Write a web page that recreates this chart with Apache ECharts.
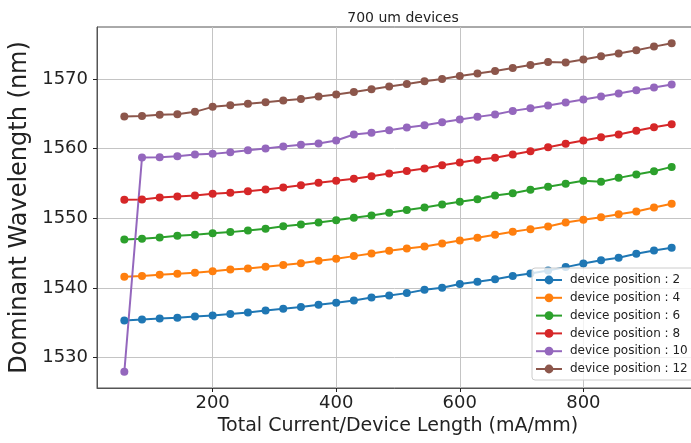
<!DOCTYPE html>
<html>
<head>
<meta charset="utf-8">
<title>700 um devices</title>
<script src="https://cdn.jsdelivr.net/npm/echarts@6/dist/echarts.min.js"></script>
<style>
  html, body { margin: 0; padding: 0; background: #ffffff; }
  #chart { width: 691px; height: 443px; }
</style>
</head>
<body>
<div id="chart"></div>
<script>
// Total current divided by device length (mA/mm)
const currentDensity = [
  57.1, 85.7, 114.3, 142.9, 171.4, 200.0, 228.6, 257.1, 285.7, 314.3, 342.9,
  371.4, 400.0, 428.6, 457.1, 485.7, 514.3, 542.9, 571.4, 600.0, 628.6, 657.1,
  685.7, 714.3, 742.9, 771.4, 800.0, 828.6, 857.1, 885.7, 914.3, 942.9
];

// Dominant wavelength (nm) for each device position
const pos2 = [
  1535.32, 1535.46, 1535.60, 1535.70, 1535.89, 1536.03, 1536.23, 1536.47, 1536.75, 1536.99, 1537.23,
  1537.57, 1537.85, 1538.19, 1538.62, 1538.91, 1539.24, 1539.72, 1540.01, 1540.54, 1540.87, 1541.25,
  1541.69, 1542.07, 1542.50, 1542.98, 1543.51, 1543.98, 1544.32, 1544.89, 1545.37, 1545.76
];
const pos4 = [
  1541.59, 1541.69, 1541.88, 1542.02, 1542.16, 1542.40, 1542.64, 1542.79, 1543.03, 1543.27, 1543.55,
  1543.89, 1544.18, 1544.56, 1544.94, 1545.33, 1545.64, 1545.95, 1546.38, 1546.81, 1547.19, 1547.62,
  1548.06, 1548.44, 1548.82, 1549.40, 1549.78, 1550.16, 1550.59, 1550.98, 1551.55, 1552.08
];
const pos6 = [
  1546.95, 1547.05, 1547.24, 1547.48, 1547.62, 1547.86, 1548.01, 1548.25, 1548.49, 1548.87, 1549.11,
  1549.40, 1549.73, 1550.07, 1550.40, 1550.79, 1551.20, 1551.55, 1551.98, 1552.37, 1552.75, 1553.28,
  1553.61, 1554.09, 1554.52, 1554.95, 1555.38, 1555.24, 1555.81, 1556.29, 1556.77, 1557.39
];
const pos8 = [
  1552.65, 1552.70, 1552.99, 1553.13, 1553.28, 1553.52, 1553.66, 1553.90, 1554.14, 1554.43, 1554.76,
  1555.10, 1555.38, 1555.67, 1556.05, 1556.44, 1556.80, 1557.16, 1557.63, 1558.02, 1558.40, 1558.69,
  1559.17, 1559.65, 1560.22, 1560.70, 1561.18, 1561.66, 1562.04, 1562.57, 1563.09, 1563.52
];
const pos10 = [
  1527.94, 1558.74, 1558.78, 1558.93, 1559.17, 1559.26, 1559.50, 1559.79, 1560.03, 1560.32, 1560.56,
  1560.75, 1561.18, 1562.04, 1562.28, 1562.66, 1563.05, 1563.38, 1563.81, 1564.20, 1564.58, 1564.91,
  1565.44, 1565.82, 1566.21, 1566.64, 1567.07, 1567.50, 1567.93, 1568.41, 1568.79, 1569.22
];
const pos12 = [
  1564.63, 1564.72, 1564.87, 1564.96, 1565.30, 1566.02, 1566.25, 1566.45, 1566.69, 1566.93, 1567.16,
  1567.50, 1567.79, 1568.17, 1568.55, 1568.94, 1569.32, 1569.70, 1570.04, 1570.47, 1570.80, 1571.19,
  1571.62, 1572.05, 1572.48, 1572.39, 1572.82, 1573.30, 1573.68, 1574.16, 1574.68, 1575.16
];

const seriesNames = [
  'device position : 2', 'device position : 4', 'device position : 6',
  'device position : 8', 'device position : 10', 'device position : 12'
];
const seriesValues = [pos2, pos4, pos6, pos8, pos10, pos12];

const xTicks = [200, 400, 600, 800];
const yTicks = [1530, 1540, 1550, 1560, 1570];

const palette = ['#1f77b4', '#ff7f0e', '#2ca02c', '#d62728', '#9467bd', '#8c564b'];
const FONT = '"DejaVu Sans", Verdana, sans-serif';
const spineColor = '#555555';
const gridColor = '#c4c4c4';

const chart = echarts.init(document.getElementById('chart'), null, { renderer: 'canvas' });

const series = seriesNames.map((name, i) => ({
  name: name,
  type: 'line',
  data: currentDensity.map((x, k) => [x, seriesValues[i][k]]),
  symbol: 'circle',
  symbolSize: 8,
  showSymbol: true,
  lineStyle: { width: 2, color: palette[i] },
  itemStyle: { color: palette[i] },
  emphasis: { disabled: true },
  animation: false
}));

chart.setOption({
  backgroundColor: '#ffffff',
  animation: false,
  color: palette,
  title: {
    text: '700 um devices',
    left: 398,
    top: 6,
    textAlign: 'center',
    textStyle: { fontFamily: FONT, fontSize: 14, fontWeight: 'normal', color: '#222' }
  },
  grid: {
    left: 97,
    right: -8,
    top: 27,
    bottom: 55,
    containLabel: false,
    outerBoundsMode: 'none',
    show: true,
    borderColor: spineColor,
    borderWidth: 1,
    backgroundColor: 'transparent'
  },
  legend: {
    orient: 'vertical',
    left: 532,
    top: 268,
    padding: [6, 12, 5, 3],
    itemGap: 5.8,
    itemWidth: 26,
    itemHeight: 11,
    backgroundColor: 'rgba(255,255,255,0.8)',
    borderColor: '#cccccc',
    borderWidth: 1,
    borderRadius: 3,
    textStyle: { fontFamily: FONT, fontSize: 12, color: '#222', padding: [0, 0, 0, 3] },
    data: seriesNames
  },
  xAxis: {
    type: 'value',
    min: 12.86,
    max: 987.14,
    name: 'Total Current/Device Length (mA/mm)',
    nameLocation: 'middle',
    nameGap: 28,
    nameTextStyle: { fontFamily: FONT, fontSize: 19, color: '#222' },
    axisLine: { show: true, onZero: false, lineStyle: { color: spineColor, width: 1 } },
    axisTick: { show: true, length: 4, customValues: xTicks, lineStyle: { color: '#222', width: 1 } },
    axisLabel: {
      customValues: xTicks, margin: 6, fontFamily: FONT, fontSize: 18, color: '#222',
      formatter: (v) => String(v)
    },
    splitLine: { show: true, lineStyle: { color: gridColor, width: 1 } }
  },
  yAxis: {
    type: 'value',
    min: 1525.6,
    max: 1577.5,
    name: 'Dominant Wavelength (nm)',
    nameLocation: 'middle',
    nameGap: 62,
    nameTextStyle: { fontFamily: FONT, fontSize: 24, color: '#222' },
    axisLine: { show: true, onZero: false, lineStyle: { color: spineColor, width: 1 } },
    axisTick: { show: true, length: 4, customValues: yTicks, lineStyle: { color: '#222', width: 1 } },
    axisLabel: {
      customValues: yTicks, margin: 9, fontFamily: FONT, fontSize: 18, color: '#222',
      formatter: (v) => String(v)
    },
    splitLine: { show: true, lineStyle: { color: gridColor, width: 1 } }
  },
  series: series
});
</script>
</body>
</html>
